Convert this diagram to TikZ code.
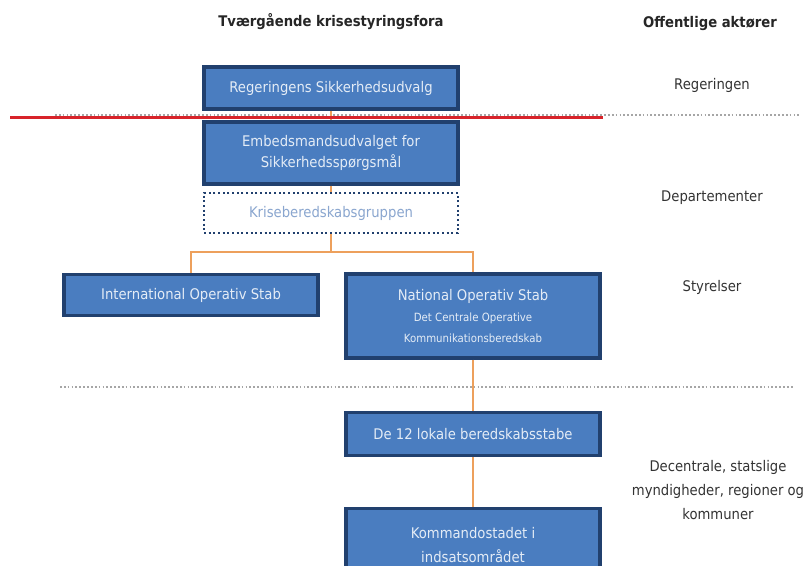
\documentclass[tikz,border=0pt]{standalone}
\usepackage{fontspec}
\setmainfont[FakeStretch=0.9]{DejaVu Sans}
\begin{document}
\begin{tikzpicture}[x=0.75pt,y=-0.75pt,
  bluebox/.style={draw=boxedge,line width=2.3pt,fill=boxfill,text=boxtext,
    minimum width=254*0.75pt,align=center,inner sep=2pt,font=\fontsize{11}{15.75}\selectfont},
  dotbox/.style={draw=boxedge,line width=1.5pt,dotted,fill=white,text=lighttext,
    minimum width=254*0.75pt,align=center,font=\fontsize{11}{15.75}\selectfont},
  conn/.style={draw=connorange,line width=2.1pt},
  sep/.style={draw=gray!70,line width=1.1pt,dash pattern=on 1.3pt off 1.6pt},
  head/.style={font=\bfseries\fontsize{11}{14}\selectfont,text=black!85},
  side/.style={font=\fontsize{11}{18}\selectfont,text=black!80,align=center}]
\definecolor{boxfill}{HTML}{4A7DC0}
\definecolor{boxedge}{HTML}{21406E}
\definecolor{boxtext}{HTML}{E4ECF6}
\definecolor{lighttext}{HTML}{8AA6CF}
\definecolor{connorange}{HTML}{EDA05C}
\definecolor{redline}{HTML}{D8232A}
\useasboundingbox (0,0) rectangle (807,565);

% headers
\node[head] (h1) at (331,22) {Tværgående krisestyringsfora};
\node[head] (h2) at (710,24) {Offentlige aktører};

% side labels
\node[side] (s1) at (712,85) {Regeringen};
\node[side] (s2) at (712,198) {Departementer};
\node[side] (s3) at (712,287) {Styrelser};
\node[side] (s4) at (718,490) {Decentrale, statslige\\myndigheder, regioner og\\kommuner};

% separators
\coordinate (d1a) at (55,115);
\coordinate (d1b) at (800,115);
\coordinate (d2a) at (60,387);
\coordinate (d2b) at (793,387);
\draw[sep] (d1a) -- (d1b);
\draw[sep] (d2a) -- (d2b);

% boxes
\node[bluebox,minimum height=42*0.75pt] (b1) at (331,88) {Regeringens Sikkerhedsudvalg};
\node[bluebox,minimum height=62*0.75pt] (b2) at (331,153) {Embedsmandsudvalget for\\Sikkerhedsspørgsmål};
\node[dotbox,minimum height=40*0.75pt] (b3) at (331,213) {Kriseberedskabsgruppen};
\node[bluebox,minimum height=41*0.75pt] (b4) at (191,295) {International Operativ Stab};
\node[bluebox,minimum height=84*0.75pt,font=\fontsize{11}{16}\selectfont] (b5) at (473,316)
  {National Operativ Stab\\{\fontsize{8.5}{16}\selectfont Det Centrale Operative}\\{\fontsize{8.5}{16}\selectfont Kommunikationsberedskab}};
\node[bluebox,minimum height=43*0.75pt] (b6) at (473,434) {De 12 lokale beredskabsstabe};
\node[bluebox,minimum height=72*0.75pt,anchor=north,font=\fontsize{11}{18}\selectfont] (b7) at (473,507) {Kommandostadet i\\indsatsområdet};

% connectors
\coordinate (j) at (331,252);
\draw[conn] (b1.south) -- (b2.north);
\draw[conn] (b2.south) -- (b3.north);
\draw[conn] (b3.south) -- (j);
\draw[conn] (b4.north) |- (j) -| (b5.north);
\draw[conn] (b5.south) -- (b6.north);
\draw[conn] (b6.south) -- (b7.north);

% red line
\coordinate (r1) at (10,117.5);
\coordinate (r2) at (603,117.5);
\draw[draw=redline,line width=2.6pt] (r1) -- (r2);
\end{tikzpicture}
\end{document}
